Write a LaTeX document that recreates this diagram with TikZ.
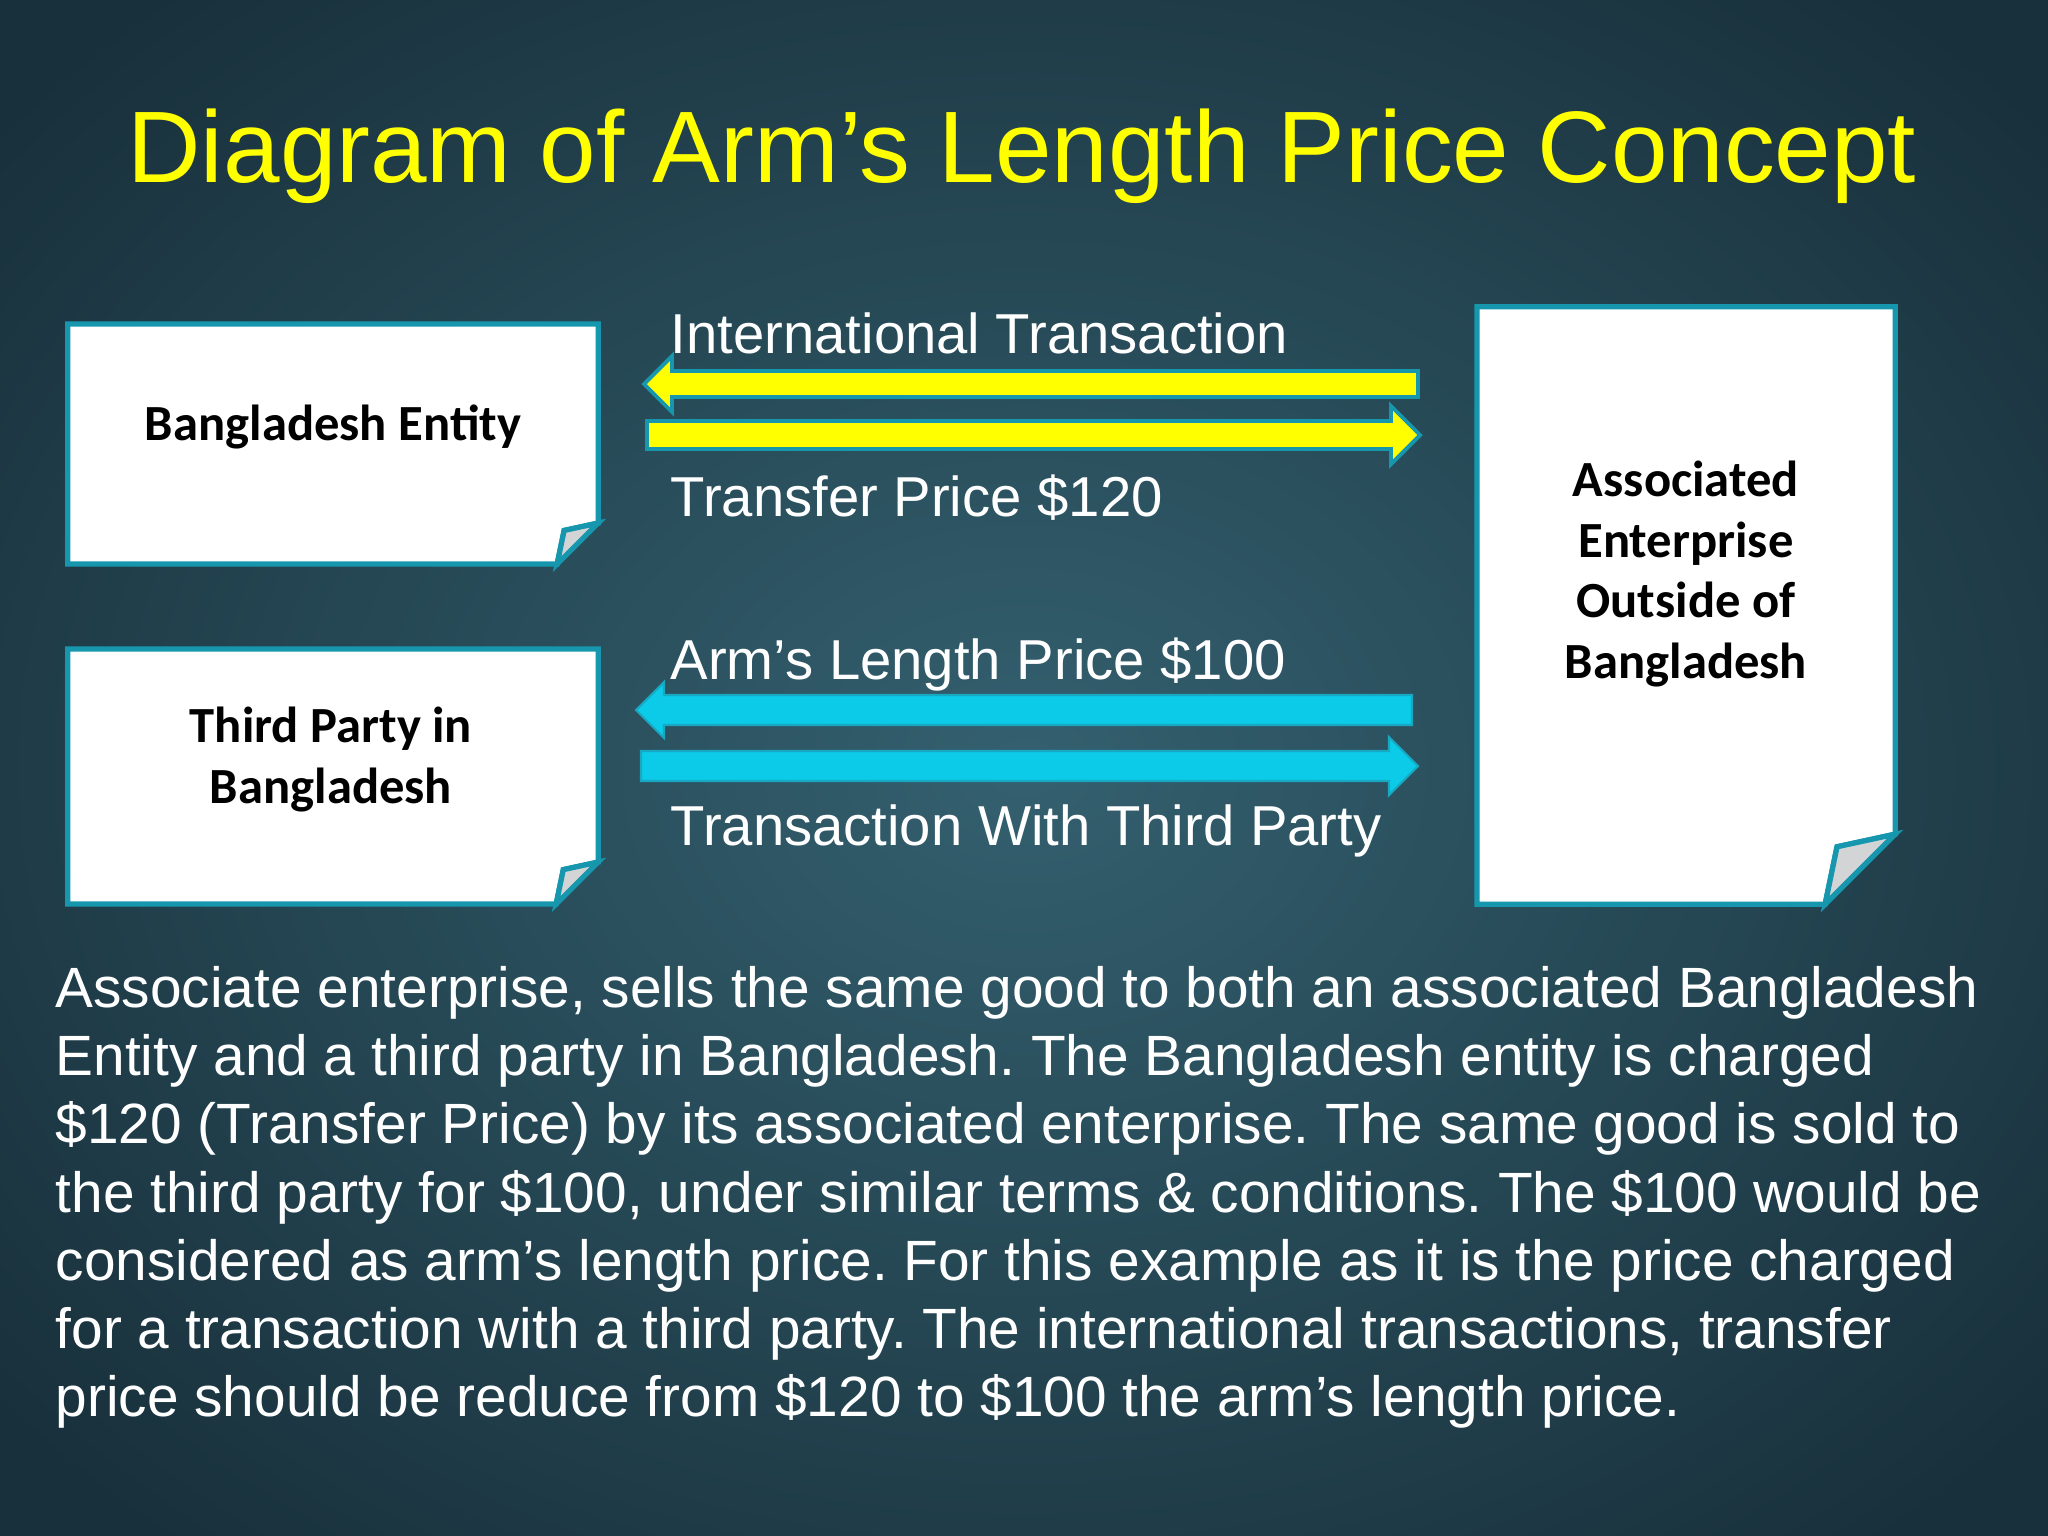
\documentclass[tikz,border=0pt]{standalone}
\usepackage{fontspec}
\setmainfont{Liberation Sans}
\newfontfamily\boxfont{Carlito}
\usetikzlibrary{calc}
\definecolor{bgin}{HTML}{34606F}
\definecolor{bgout}{HTML}{18303B}
\definecolor{papteal}{HTML}{1697AE}
\definecolor{foldgray}{HTML}{D2D4D6}
\definecolor{titleyellow}{HTML}{FFFF00}
\definecolor{arrowcyan}{HTML}{0BCBE8}
\definecolor{cyanedge}{HTML}{18A8C2}
\tikzset{
  paperline/.style={draw=papteal, line width=1.5pt, line join=miter},
  ghost/.style={inner sep=0pt, outer sep=0pt},
  boxtext/.style={inner sep=0pt, text=black, align=center,
    font=\boxfont\bfseries\fontsize{14.4}{17.3}\selectfont},
  lbl/.style={inner sep=0pt, text=white, anchor=base west,
    font=\fontsize{16}{19}\selectfont},
  yarrow/.style={fill=titleyellow, draw=papteal, line width=1.1pt, line join=miter},
  carrow/.style={fill=arrowcyan, draw=cyanedge, line width=0.6pt, line join=miter},
}
% fold paper: #1 node name, #2 fold size
\newcommand\foldpaper[2]{%
  \coordinate (#1-R) at ($(#1.south east)+(0,-#2)$);
  \coordinate (#1-B) at ($(#1.south east)+(-#2,0)$);
  \coordinate (#1-I) at ($(#1.south east)+(-0.83*#2,-0.82*#2)$);
  \draw[paperline, fill=white] (#1.north west) -- (#1.north east) -- (#1-R)
     -- (#1-I) -- (#1-B) -- (#1.south west) -- cycle;
  \draw[paperline, fill=foldgray] (#1-R) -- (#1-I) -- (#1-B) -- cycle;
}
% block arrow: #1 style, #2 tail x, #3 tip x, #4 y, #5 shaft half, #6 head half, #7 head length (signed toward tail)
\newcommand\blockarrow[7]{%
  \draw[#1] ({#2},{#4-#5}) -- ({#3+#7},{#4-#5}) -- ({#3+#7},{#4-#6}) -- ({#3},{#4})
    -- ({#3+#7},{#4+#6}) -- ({#3+#7},{#4+#5}) -- ({#2},{#4+#5}) -- cycle;
}
\begin{document}
\begin{tikzpicture}[x=0.01cm,y=-0.01cm]
\useasboundingbox (0,0) rectangle (2048,1536);
\shade[inner color=bgin, outer color=bgout] (-300,-250) rectangle (2348,1786);

% title
\node[inner sep=0pt, anchor=base, text=titleyellow, font=\fontsize{28.9}{34}\selectfont]
  (title) at (1022,182) {Diagram of Arm’s Length Price Concept};

% paper boxes
\node[ghost, minimum width=5.30cm, minimum height=2.40cm] (be) at (333,444) {};
\node[ghost, minimum width=5.30cm, minimum height=2.55cm] (tp) at (333,776.5) {};
\node[ghost, minimum width=4.18cm, minimum height=5.97cm] (ae) at (1686,605.5) {};
\foldpaper{be}{41}
\foldpaper{tp}{42}
\foldpaper{ae}{70}

\node[boxtext, anchor=base] (bet) at (333,440) {Bangladesh Entity};
\node[boxtext, anchor=north] (tpt) at (331,706) {Third Party in\\Bangladesh};
\node[boxtext, anchor=north] (aet) at (1686,460) {Associated\\Enterprise\\Outside of\\Bangladesh};

% arrows
\blockarrow{yarrow}{1418}{644}{384}{13}{28}{28}
\blockarrow{yarrow}{647}{1420}{435}{14}{29}{-29}
\blockarrow{carrow}{1412}{636}{710}{15}{28}{28}
\blockarrow{carrow}{641}{1418}{766}{15}{29}{-29}

% labels
\node[lbl] (l1) at (670,353) {International Transaction};
\node[lbl] (l2) at (670,516) {Transfer Price \$120};
\node[lbl] (l3) at (670,679) {Arm’s Length Price \$100};
\node[lbl] (l4) at (670,845) {Transaction With Third Party};

% paragraph
\node[inner sep=0pt, anchor=north west, align=left, text=white,
  font=\frenchspacing\fontsize{16.15}{19.35}\selectfont] (para) at (55,966)
 {Associate enterprise, sells the same good to both an associated Bangladesh\\
  Entity and a third party in Bangladesh. The Bangladesh entity is charged\\
  \$120 (Transfer Price) by its associated enterprise. The same good is sold to\\
  the third party for \$100, under similar terms \& conditions. The \$100 would be\\
  considered as arm’s length price. For this example as it is the price charged\\
  for a transaction with a third party. The international transactions, transfer\\
  price should be reduce from \$120 to \$100 the arm’s length price.};
\end{tikzpicture}
\end{document}
